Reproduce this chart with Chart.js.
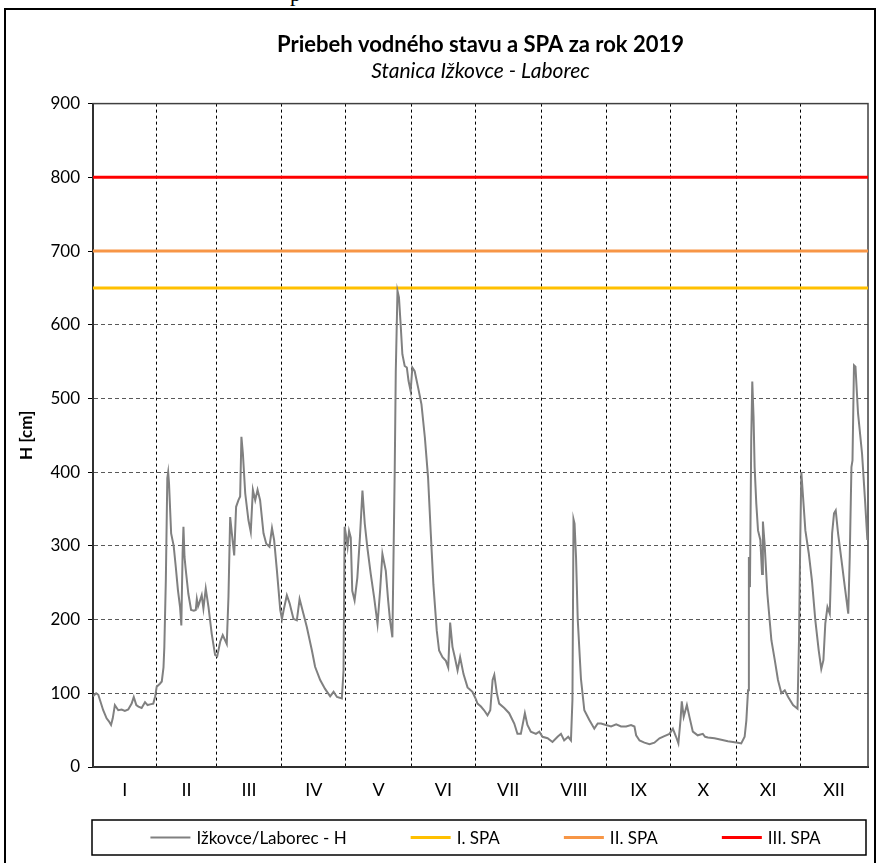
<!DOCTYPE html>
<html>
<head>
<meta charset="utf-8">
<script src="https://cdn.jsdelivr.net/npm/chart.js@4.4.1/dist/chart.umd.min.js"></script>
<style>
    html, body { margin: 0; padding: 0; background: #fff; overflow: hidden; }
    #frame { position: absolute; left: 4px; top: 8px; width: 872px; height: 900px; border: 2px solid #000; box-sizing: border-box; }
    #wrap { position: absolute; left: 0; top: 0; width: 878px; height: 863px; }
    #cut { position: absolute; left: 290px; top: -17px; font: 22px/1 'Liberation Serif', serif; color: #000; }
</style>
</head>
<body>
<div id="cut">p</div>
<div id="frame"></div>
<div id="wrap"><canvas id="levelChart"></canvas></div>
<script>
// Day of year and water level H [cm]
const days = [
    1, 2.5, 3.5, 5.8, 7.4, 8.5, 9.5, 10.3, 11.3, 12.9, 14.5, 16, 17.6, 19.2, 20.2, 21.4, 22.4, 23.9, 25.5, 26.7, 27.9, 29.4, 30.3,
    31, 32.5, 33.4, 34.2, 34.6, 35.3, 36, 36.4, 36.8, 37.8, 39, 40, 41, 42, 42.6, 43.2, 43.6, 44.1, 44.6, 45.9, 47.2, 48.5, 49.4, 49.9, 50.5, 51, 52.2, 53, 54.1, 55.4, 56.9, 58.5,
    59.5, 60.9, 62.1, 64, 64.8, 65.6, 66.4, 67.5, 68.4, 69.5, 70.3, 70.9, 71.6, 72.7, 74.2, 75.3, 76.3, 77.4, 78.5, 79.7, 81.3, 82.6, 84.1, 85.3, 86.3, 87.6, 89.2,
    90, 90.8, 92.3, 93.6, 95.4, 97, 98.3, 100.1, 101.7, 104.1, 105.6, 108, 110.3, 112.7, 114.3, 115.9, 118.2, 119, 119.5,
    120.3, 120.9, 121.6, 122.4, 123.1, 124.2, 125.5, 126.7, 127.9, 129, 130.2, 131.8, 133.4, 135, 136.2, 137.3, 138.9, 140, 140.9, 142, 143.1, 143.6, 144.4, 145.1, 145.9, 146.7, 147.8, 148.8, 149.6, 150.6,
    151.4, 152.5, 154.1, 155.7, 157.3, 158.8, 160.1, 161.3, 162.9, 164, 165.6, 167.2, 168.3, 169.2, 170.3, 171.4, 172.7, 173.9, 175.5, 177.4, 179.7,
    181.3, 182.1, 183.7, 185.2, 186.8, 188.1, 189.2, 190, 191.2, 192.3, 194.7, 197, 199.4, 200.9, 202.5, 204.4, 205.6, 207.2, 209.6, 211.2,
    212.7, 215.1, 217.4, 219.8, 221.4, 222.9, 224.8, 226.1, 226.8, 227.3, 227.8, 228.5, 229.3, 230.8, 232.4, 234.7, 237.1, 238.7, 240.3, 242.6,
    245, 247.4, 249.7, 252.1, 254.4, 256, 256.8, 258.4, 260.7, 263.1, 265.4, 267.8, 270.1, 272.5,
    274.1, 275.6, 276.7, 277.7, 278.3, 279.2, 280.7, 281.9, 283.5, 285.8, 288.2, 289.3, 290.6, 293.7, 296.9, 300, 302.4,
    304.7, 306.3, 307.9, 308.7, 309.5, 309.9, 310.4, 311, 311.5, 312.1, 312.6, 313.4, 314.2, 315.3, 316.1, 316.5, 317.3, 318.6, 320.5, 322.1, 323.6, 325.2, 326.8, 328.4, 330.7, 332.8, 333.5,
    334.1, 334.6, 335.4, 336.5, 338.1, 339.6, 341.2, 342.8, 344, 345, 345.9, 346.9, 348, 349.1, 350, 350.8, 351.9, 353.5, 355.1, 356.7, 357.4, 358.2, 358.7, 359.4, 360.1, 361.3, 363.2, 364.6, 365.7
];
const levels = [
    96, 100, 98, 77, 66, 62, 57, 66, 84, 77, 78, 76, 78, 86, 95, 84, 82, 80, 88, 84, 85, 86, 96,
    109, 113, 116, 135, 163, 253, 392, 400, 385, 317, 300, 271, 240, 217, 192, 290, 326, 285, 270, 235, 213, 212, 213, 228, 218, 222, 233, 215, 242, 217, 181, 152,
    150, 170, 179, 167, 231, 339, 317, 287, 353, 362, 367, 448, 425, 371, 335, 319, 376, 362, 376, 362, 317, 303, 299, 324, 308, 267, 213,
    201, 213, 233, 222, 201, 199, 228, 208, 190, 158, 136, 118, 106, 96, 102, 95, 93, 131, 326,
    312, 299, 320, 311, 239, 226, 257, 311, 375, 330, 298, 262, 230, 194, 239, 289, 266, 226, 199, 176, 402, 537, 646, 637, 600, 560, 544, 542, 524, 510,
    542, 537, 515, 492, 447, 393, 316, 248, 185, 158, 149, 144, 135, 196, 163, 149, 131, 149, 126, 108, 102,
    92, 86, 82, 77, 70, 77, 118, 125, 100, 86, 80, 73, 59, 45, 45, 73, 57, 48, 45, 48,
    41, 39, 34, 41, 45, 36, 41, 36, 91, 336, 330, 284, 200, 120, 77, 64, 52, 59, 59, 57,
    55, 58, 55, 55, 57, 55, 43, 36, 33, 31, 33, 39, 42, 45,
    52, 41, 32, 64, 89, 68, 84, 68, 48, 43, 45, 41, 40, 39, 37, 35, 34,
    33, 32, 41, 63, 104, 285, 244, 443, 523, 475, 407, 357, 321, 308, 262, 333, 303, 235, 172, 145, 118, 100, 104, 95, 84, 79, 172,
    308, 400, 367, 321, 290, 253, 199, 158, 133, 145, 195, 217, 208, 317, 344, 348, 317, 281, 244, 208, 285, 407, 416, 545, 543, 480, 425, 362, 308
];

// Flood activity levels (SPA)
const spaNames = ['I. SPA', 'II. SPA', 'III. SPA'];
const spaLevels = [650, 700, 800];
const spaColors = ['#FFC000', '#F79646', '#FF0000'];

// Months on the x axis
const monthLabels = ['I', 'II', 'III', 'IV', 'V', 'VI', 'VII', 'VIII', 'IX', 'X', 'XI', 'XII'];
const monthBounds = [1, 31, 59, 90, 120, 151, 181, 212, 243, 273, 304, 334, 366];
const yTicks = [0, 100, 200, 300, 400, 500, 600, 700, 800, 900];

const firstDay = monthBounds[0];
const lastDay = monthBounds[monthBounds.length - 1];
const innerBounds = monthBounds.slice(1, -1);
const monthMids = monthLabels.map((m, i) => (monthBounds[i] + monthBounds[i + 1]) / 2);

Chart.defaults.font.family = 'Lato';
Chart.defaults.color = '#000';

// plot frame + boxed legend under the axis (Excel style)
const frameBoxes = {
    id: 'frameBoxes',
    beforeDatasetsDraw(chart) {
        const { ctx, chartArea: a } = chart;
        ctx.save();
        ctx.strokeStyle = '#404040';
        ctx.lineWidth = 1.5;
        ctx.strokeRect(a.left, a.top, a.right - a.left, a.bottom - a.top);
        ctx.restore();
    },
    afterDraw(chart) {
        const { ctx, chartArea: a } = chart;
        const lineLen = 40, textGap = 6, itemGap = 64;
        const boxTop = a.bottom + 53, boxH = 35;
        const y = boxTop + boxH / 2;
        ctx.save();
        ctx.font = '17px Lato';
        const items = chart.data.datasets.map(ds => ({
            ds: ds,
            w: lineLen + textGap + ctx.measureText(ds.label).width
        }));
        const total = items.reduce((s, it) => s + it.w, 0) + itemGap * (items.length - 1);
        let x = (a.left + a.right) / 2 + 5 - total / 2;

        ctx.strokeStyle = '#000';
        ctx.lineWidth = 1.5;
        ctx.strokeRect(a.left - 1, boxTop, a.right - a.left - 1, boxH);

        ctx.textBaseline = 'middle';
        ctx.fillStyle = '#000';
        items.forEach(it => {
            ctx.strokeStyle = it.ds.borderColor;
            ctx.lineWidth = it.ds.borderWidth;
            ctx.beginPath();
            ctx.moveTo(x, y);
            ctx.lineTo(x + lineLen, y);
            ctx.stroke();
            ctx.fillText(it.ds.label, x + lineLen + textGap, y + 1);
            x += it.w + itemGap;
        });
        ctx.restore();
    }
};

const datasets = [{
    label: 'Ižkovce/Laborec - H',
    data: days.map((d, i) => ({ x: d, y: levels[i] })),
    borderColor: '#808080',
    backgroundColor: '#808080',
    borderWidth: 2,
    pointRadius: 0,
    tension: 0
}];
spaLevels.forEach((lvl, i) => {
    datasets.push({
        label: spaNames[i],
        data: [{ x: firstDay, y: lvl }, { x: lastDay, y: lvl }],
        borderColor: spaColors[i],
        backgroundColor: spaColors[i],
        borderWidth: 3,
        pointRadius: 0
    });
});

const ctx = document.getElementById('levelChart').getContext('2d');
new Chart(ctx, {
    type: 'line',
    data: { datasets: datasets },
    plugins: [frameBoxes],
    options: {
        responsive: true,
        maintainAspectRatio: false,
        animation: false,
        layout: { padding: { left: 0, right: 10, top: 0, bottom: 51 } },
        plugins: {
            title: {
                display: true,
                fullSize: false,
                text: 'Priebeh vodného stavu a SPA za rok 2019',
                color: '#000',
                font: { size: 22, weight: 'bold' },
                padding: { top: 32, bottom: 0 }
            },
            subtitle: {
                display: true,
                fullSize: false,
                text: 'Stanica Ižkovce - Laborec',
                color: '#000',
                font: { size: 21, style: 'italic', weight: 'normal' },
                padding: { top: 0, bottom: 20 }
            },
            legend: { display: false },
            tooltip: { enabled: false }
        },
        scales: {
            x: {
                type: 'linear',
                min: firstDay,
                max: lastDay,
                afterBuildTicks: (scale) => {
                    scale.ticks = innerBounds.concat(monthMids).sort((a, b) => a - b).map(v => ({ value: v }));
                },
                afterFit: (scale) => { scale.height = 45; },
                ticks: {
                    autoSkip: false,
                    maxRotation: 0,
                    padding: 12,
                    color: '#000',
                    font: { size: 18 },
                    callback: (v) => {
                        const i = monthMids.indexOf(v);
                        return i >= 0 ? monthLabels[i] : '';
                    }
                },
                grid: {
                    drawTicks: false,
                    lineWidth: 1,
                    color: (c) => (c.tick && innerBounds.includes(c.tick.value)) ? '#000' : 'rgba(0,0,0,0)'
                },
                border: { display: true, color: '#000', width: 2, dash: [3, 3] }
            },
            y: {
                min: 0,
                max: 900,
                afterBuildTicks: (scale) => {
                    scale.ticks = yTicks.map(v => ({ value: v }));
                },
                afterFit: (scale) => { scale.width = 93; },
                ticks: {
                    padding: 8,
                    color: '#000',
                    font: { size: 17 }
                },
                grid: {
                    color: '#595959',
                    lineWidth: 1,
                    tickLength: 5,
                    tickColor: '#000'
                },
                border: { display: true, color: '#000', width: 2, dash: [4, 3] },
                title: {
                    display: true,
                    text: 'H [cm]',
                    color: '#000',
                    font: { size: 17, weight: 'bold' },
                    padding: { top: 16, bottom: 0 }
                }
            }
        }
    }
});
</script>
</body>
</html>
